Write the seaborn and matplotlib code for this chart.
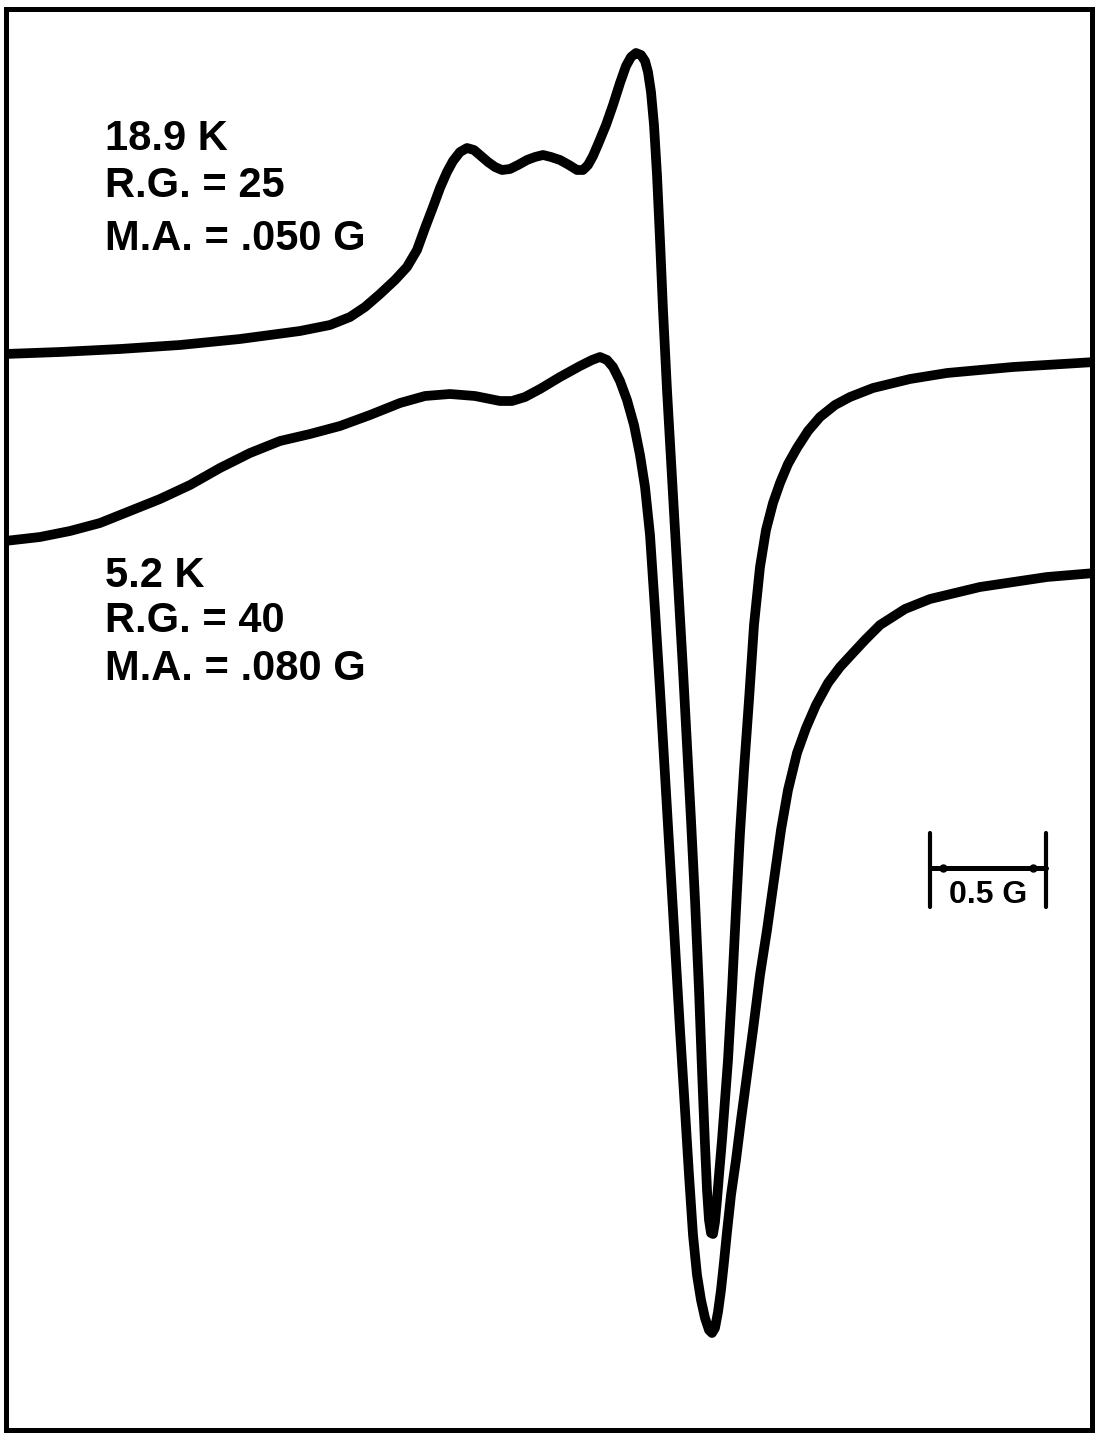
import matplotlib
matplotlib.use("Agg")
import matplotlib.pyplot as plt
import pandas as pd
import seaborn as sns

# Field position (chart units, increasing to the right) and derivative signal
field_189K = [5, 60, 120, 180, 240, 300, 330, 350, 365, 380, 395, 407, 417, 425, 433,
              440, 447, 453, 460, 467, 474, 481, 488, 495, 502, 510, 518, 527, 535,
              543, 551, 560, 569, 577, 583, 588, 593, 599, 606, 613, 620, 626, 631,
              636, 641, 645, 648, 651, 654, 657, 660, 663, 667, 671, 675, 679, 683,
              687, 691, 695, 699, 702, 705, 707, 709, 711, 713, 715, 717, 719, 722,
              725, 728, 732, 736, 740, 744, 749, 754, 760, 766, 773, 780, 788, 797,
              808, 820, 835, 850, 873, 910, 947, 1013, 1095]
signal_189K = [1081, 1083, 1086, 1090, 1096, 1104, 1110, 1118, 1128, 1141, 1155, 1168,
               1185, 1207, 1228, 1247, 1263, 1274, 1283, 1287, 1285, 1279, 1273, 1268,
               1265, 1266, 1270, 1275, 1278, 1280, 1278, 1275, 1270, 1265, 1265, 1270,
               1279, 1293, 1310, 1330, 1352, 1369, 1378, 1382, 1380, 1374, 1363, 1343,
               1310, 1260, 1195, 1125, 1045, 975, 905, 835, 765, 690, 615, 535, 445,
               365, 290, 245, 215, 202, 201, 213, 235, 260, 295, 335, 375, 445, 525,
               602, 665, 735, 810, 868, 905, 932, 952, 971, 987, 1004, 1018, 1030,
               1038, 1047, 1056, 1062, 1068, 1073]

field_52K = [5, 40, 70, 100, 130, 160, 190, 220, 250, 280, 310, 340, 370, 400, 425,
             450, 475, 500, 512, 525, 540, 560, 580, 592, 600, 607, 613, 620, 627, 634,
             640, 645, 650, 655, 660, 665, 670, 675, 680, 685, 689, 693, 697, 701, 705,
             709, 712, 715, 718, 721, 724, 727, 731, 736, 741, 747, 753, 760, 767, 774,
             781, 788, 797, 806, 816, 828, 840, 852, 865, 880, 905, 930, 980, 1047, 1095]
signal_52K = [894, 898, 904, 912, 924, 936, 950, 967, 982, 994, 1001, 1009, 1020, 1032,
              1039, 1041, 1039, 1034, 1034, 1038, 1046, 1058, 1069, 1075, 1078, 1075,
              1068, 1054, 1035, 1010, 980, 948, 900, 825, 745, 660, 575, 490, 405, 325,
              260, 200, 160, 135, 117, 105, 102, 107, 123, 145, 173, 203, 240, 275, 315,
              360, 405, 460, 505, 555, 605, 645, 682, 707, 730, 752, 768, 781, 795, 810,
              826, 836, 848, 858, 862]

labels_189K = ["18.9 K", "R.G. = 25", "M.A. = .050 G"]
labels_52K = ["5.2 K", "R.G. = 40", "M.A. = .080 G"]
scale_label = "0.5 G"

# Frame extent in chart units
X_MIN, X_MAX = 6, 1092
Y_MIN, Y_MAX = 5, 1426

spectra = pd.concat([
    pd.DataFrame({"field": field_189K, "signal": signal_189K, "T": "18.9 K"}),
    pd.DataFrame({"field": field_52K, "signal": signal_52K, "T": "5.2 K"}),
])

sns.set_theme(style="white")
plt.rcParams["font.family"] = ["Liberation Sans", "DejaVu Sans"]

fig = plt.figure(figsize=(10.96, 14.35), dpi=100)
ax = fig.add_axes([6 / 1096, 5 / 1435, 1086 / 1096, 1421 / 1435])

sns.lineplot(data=spectra, x="field", y="signal", units="T", estimator=None,
             sort=False, color="black", linewidth=7.0, legend=False, ax=ax,
             solid_joinstyle="round", solid_capstyle="round")

ax.set_xlim(X_MIN, X_MAX)
ax.set_ylim(Y_MIN, Y_MAX)
ax.set_xticks([])
ax.set_yticks([])
ax.set_xlabel("")
ax.set_ylabel("")
for side in ax.spines.values():
    side.set_visible(True)
    side.set_color("black")
    side.set_linewidth(3.6)

# Recording conditions for each trace
text_style = dict(fontsize=30, fontweight="bold", color="black",
                  ha="left", va="baseline")
for label, y in zip(labels_189K, [1285, 1238, 1185]):
    ax.text(105, y, label, **text_style)
for label, y in zip(labels_52K, [848, 803, 755]):
    ax.text(105, y, label, **text_style)

# Field scale bar
bar_left, bar_right = 930, 1046
bar_y, tick_low, tick_high = 567, 528, 602
ax.plot([bar_left, bar_left], [tick_low, tick_high], color="black", lw=3.0,
        solid_capstyle="round")
ax.plot([bar_right, bar_right], [tick_low, tick_high], color="black", lw=3.0,
        solid_capstyle="round")
ax.plot([bar_left, bar_right], [bar_y, bar_y], color="black", lw=3.6)
ax.plot([bar_left + 13, bar_right - 13], [bar_y, bar_y], "o", color="black",
        markersize=5)
ax.text((bar_left + bar_right) / 2, 532, scale_label, fontsize=23,
        fontweight="bold", color="black", ha="center", va="baseline")

fig.savefig("out.png", dpi=100, facecolor="white")
